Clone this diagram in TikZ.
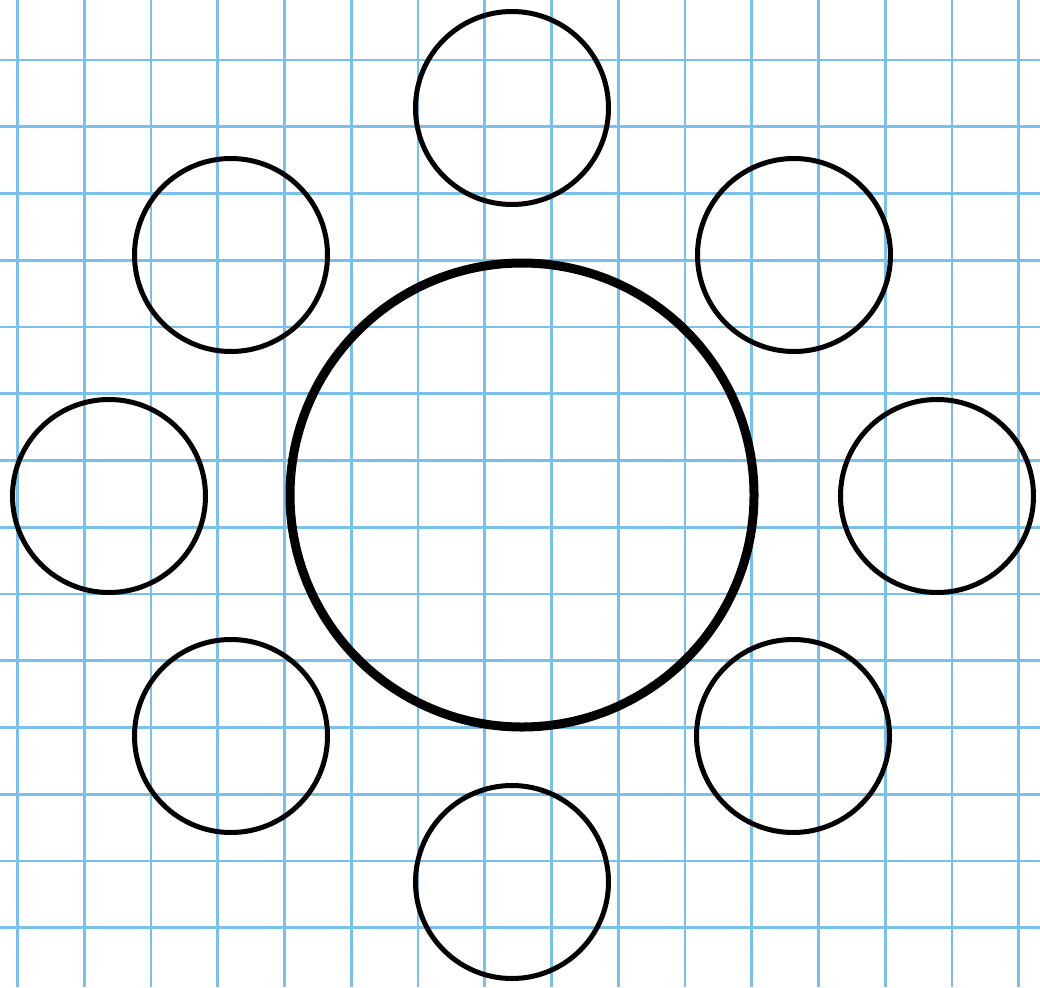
\documentclass[tikz,border=0pt]{standalone}
\definecolor{gridblue}{RGB}{122,192,232}
\begin{document}
\begin{tikzpicture}[x=1pt,y=-1pt,
  gridline/.style={draw=gridblue,line width=2.6pt},
  small/.style={circle,draw=black,line width=5pt,inner sep=0pt,minimum size=193pt},
  big/.style={circle,draw=black,line width=9pt,inner sep=0pt,minimum size=464pt}]
\useasboundingbox[fill=white] (0,0) rectangle (1040,987);
\foreach \k in {0,...,15} {
  \draw[gridline] ({17.5+66.75*\k},0) -- ({17.5+66.75*\k},987);
}
\foreach \k in {-1,...,13} {
  \draw[gridline] (0,{60+66.75*\k}) -- (1040,{60+66.75*\k});
}
\node[big] (hub) at (522,495) {};
\node[small] (n) at (512,108) {};
\node[small] (nw) at (231,255) {};
\node[small] (ne) at (794,255) {};
\node[small] (w) at (109,496) {};
\node[small] (e) at (937,496) {};
\node[small] (sw) at (231,736) {};
\node[small] (se) at (793,736) {};
\node[small] (s) at (512,882) {};
\end{tikzpicture}
\end{document}
